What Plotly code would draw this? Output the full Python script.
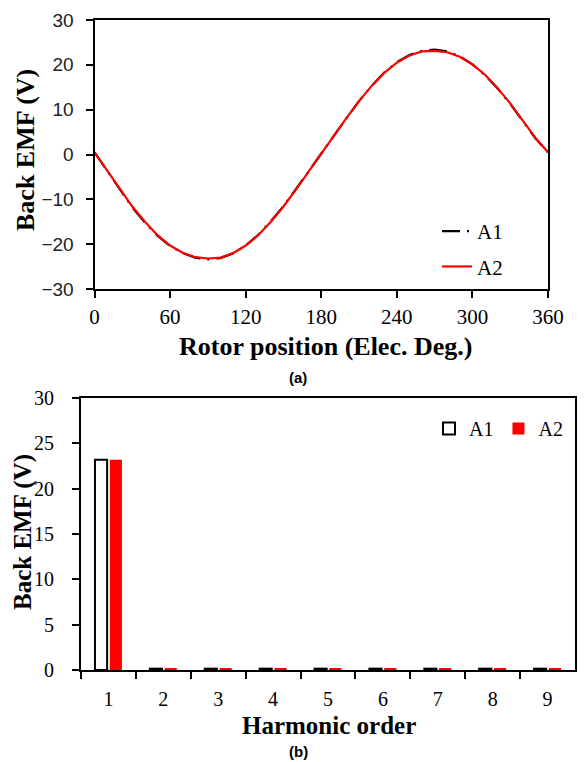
import plotly.graph_objects as go

# Back EMF waveform over one electrical period (degrees)
rotor_deg = [0, 10, 20, 30, 40, 50, 60, 70, 80, 90, 100, 110, 120, 130, 140, 150, 160, 170, 180,
             190, 200, 210, 220, 230, 240, 250, 260, 270, 280, 290, 300, 310, 320, 330, 340, 350, 360]
emf_a1 = [0.5, -3.7, -7.8, -11.8, -15.2, -18.1, -20.4, -22.0, -23.0, -23.4, -23.1, -22.1, -20.3, -17.9,
          -14.9, -11.5, -7.7, -3.7, 0.2, 4.2, 8.1, 11.9, 15.3, 18.3, 20.6, 22.2, 23.1, 23.4, 23.0, 21.9,
          20.1, 17.7, 14.7, 11.3, 7.5, 3.6, 0.5]
emf_a2 = [0.5, -3.6, -7.7, -11.6, -15.0, -18.0, -20.3, -21.9, -22.9, -23.2, -23.0, -22.0, -20.3, -18.0,
          -15.0, -11.6, -7.8, -3.8, 0.2, 4.2, 8.1, 11.9, 15.3, 18.2, 20.5, 22.1, 23.0, 23.1, 22.8, 21.8,
          20.1, 17.8, 14.8, 11.4, 7.6, 3.7, 0.5]

# Harmonic spectrum
harmonic_order = ["1", "2", "3", "4", "5", "6", "7", "8", "9"]
harm_a1 = [23.2, 0.15, 0.15, 0.15, 0.15, 0.15, 0.15, 0.15, 0.15]
harm_a2 = [23.2, 0.15, 0.15, 0.15, 0.15, 0.15, 0.15, 0.15, 0.15]

W, H = 585, 762
SERIF = "Liberation Serif, Times New Roman, serif"
SANS = "Liberation Sans, Arial, sans-serif"


def px_x(p):
    return p / W


def px_y(p):
    return 1 - p / H


fig = go.Figure()

fig.add_trace(go.Scatter(
    x=rotor_deg, y=emf_a1, mode="lines", name="A1", legendgroup="a1",
    line=dict(color="black", width=2.2, dash="18px,7px,2px,7px"),
    xaxis="x", yaxis="y", legend="legend",
))
fig.add_trace(go.Scatter(
    x=rotor_deg, y=emf_a2, mode="lines", name="A2", legendgroup="a2",
    line=dict(color="#ff0000", width=2.2),
    xaxis="x", yaxis="y", legend="legend",
))

fig.add_trace(go.Bar(
    x=harmonic_order, y=harm_a1, name="A1",
    marker=dict(color="white", line=dict(color="black", width=2)),
    xaxis="x2", yaxis="y2", legend="legend2",
))
fig.add_trace(go.Bar(
    x=harmonic_order, y=harm_a2, name="A2",
    marker=dict(color="#ff0000", line=dict(color="#ff0000", width=0)),
    xaxis="x2", yaxis="y2", legend="legend2",
))

axis_common = dict(
    showline=True, linecolor="black", linewidth=2, mirror=True,
    ticks="outside", ticklen=7, tickwidth=2, tickcolor="black",
    showgrid=False, zeroline=False, automargin=False,
)

fig.update_layout(
    template="none",
    width=W, height=H,
    margin=dict(l=0, r=0, t=0, b=0, pad=0, autoexpand=False),
    paper_bgcolor="white", plot_bgcolor="white",
    barmode="group", bargap=0.46, bargroupgap=0.18,
    xaxis=dict(
        domain=[px_x(94.5), px_x(548)], anchor="y",
        range=[0, 360], tickvals=[0, 60, 120, 180, 240, 300, 360],
        tickfont=dict(family=SERIF, size=21, color="black"),
        ticklabelstandoff=1,
        **axis_common,
    ),
    yaxis=dict(
        domain=[px_y(289), px_y(20)], anchor="x",
        range=[-30, 30], tickvals=[-30, -20, -10, 0, 10, 20, 30],
        tickfont=dict(family=SANS, size=19, color="#222222"),
        ticklabelstandoff=8,
        **axis_common,
    ),
    xaxis2=dict(
        domain=[px_x(81), px_x(575)], anchor="y2",
        type="category", tickson="boundaries",
        tickfont=dict(family=SERIF, size=20, color="black"),
        ticklabelstandoff=10,
        **axis_common,
    ),
    yaxis2=dict(
        domain=[px_y(670), px_y(398)], anchor="x2",
        range=[0, 30], tickvals=[0, 5, 10, 15, 20, 25, 30],
        tickfont=dict(family=SERIF, size=20, color="black"),
        ticklabelstandoff=14,
        **axis_common,
    ),
    legend=dict(
        x=px_x(437), y=px_y(211), xanchor="left", yanchor="top",
        bgcolor="rgba(0,0,0,0)", font=dict(family=SERIF, size=21, color="black"),
        itemwidth=30, tracegroupgap=5,
    ),
    legend2=dict(
        orientation="h", x=px_x(568), y=px_y(409), xanchor="right", yanchor="top",
        bgcolor="rgba(0,0,0,0)", font=dict(family=SERIF, size=20, color="black"),
        itemwidth=30,
    ),
    showlegend=True,
    annotations=[
        dict(text="<b>Back EMF (V)</b>", xref="paper", yref="paper",
             x=px_x(25), y=px_y(150), textangle=-90, showarrow=False,
             xanchor="center", yanchor="middle",
             font=dict(family=SERIF, size=26, color="black")),
        dict(text="<b>Rotor position (Elec. Deg.)</b>", xref="paper", yref="paper",
             x=px_x(325), y=px_y(347), showarrow=False,
             xanchor="center", yanchor="middle",
             font=dict(family=SERIF, size=26, color="black")),
        dict(text="<b>(a)</b>", xref="paper", yref="paper",
             x=px_x(298), y=px_y(377), showarrow=False,
             xanchor="center", yanchor="middle",
             font=dict(family=SANS, size=15, color="black")),
        dict(text="<b>Back EMF (V)</b>", xref="paper", yref="paper",
             x=px_x(23), y=px_y(532), textangle=-90, showarrow=False,
             xanchor="center", yanchor="middle",
             font=dict(family=SERIF, size=25, color="black")),
        dict(text="<b>Harmonic order</b>", xref="paper", yref="paper",
             x=px_x(329), y=px_y(725), showarrow=False,
             xanchor="center", yanchor="middle",
             font=dict(family=SERIF, size=25, color="black")),
        dict(text="<b>(b)</b>", xref="paper", yref="paper",
             x=px_x(298), y=px_y(751), showarrow=False,
             xanchor="center", yanchor="middle",
             font=dict(family=SANS, size=15, color="black")),
    ],
)

fig.write_html("out.html")
